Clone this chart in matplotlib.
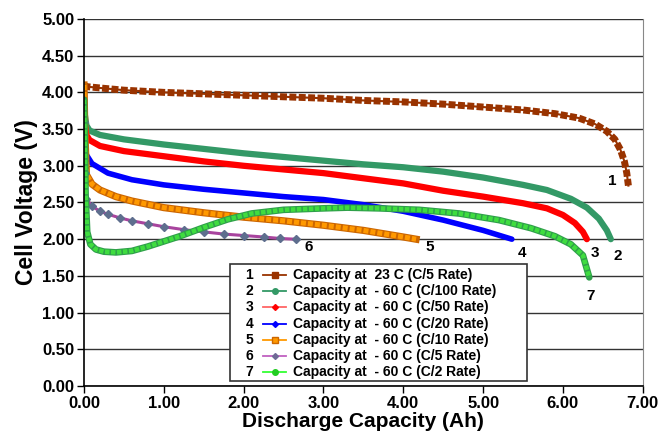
import matplotlib
matplotlib.use("Agg")
import matplotlib.pyplot as plt
from matplotlib.lines import Line2D
from matplotlib.patches import Rectangle

plt.rcParams['font.family'] = ['Liberation Sans', 'DejaVu Sans']

# curve 1: 23 C, C/5
x1 = [0.00, 0.02, 0.2, 0.5, 1.0, 1.5, 2.0, 2.5, 3.0, 3.5, 4.0, 4.5, 5.0, 5.5, 5.9, 6.2, 6.4, 6.55, 6.65, 6.72, 6.77, 6.8, 6.82]
v1 = [4.10, 4.08, 4.06, 4.03, 4.00, 3.98, 3.96, 3.94, 3.92, 3.89, 3.87, 3.84, 3.80, 3.76, 3.71, 3.65, 3.57, 3.47, 3.36, 3.22, 3.06, 2.90, 2.73]
# curve 2: -60 C, C/100
x2 = [0.0, 0.01, 0.03, 0.07, 0.2, 0.5, 1.0, 1.5, 2.0, 2.5, 3.0, 3.5, 4.0, 4.5, 5.0, 5.5, 5.8, 6.1, 6.3, 6.45, 6.55, 6.6]
v2 = [4.0, 3.7, 3.55, 3.48, 3.42, 3.36, 3.29, 3.23, 3.17, 3.12, 3.07, 3.02, 2.98, 2.92, 2.84, 2.74, 2.67, 2.55, 2.43, 2.28, 2.12, 2.0]
# curve 3: -60 C, C/50
x3 = [0.0, 0.01, 0.03, 0.07, 0.2, 0.5, 1.0, 1.5, 2.0, 2.5, 3.0, 3.5, 4.0, 4.5, 5.0, 5.5, 5.8, 6.0, 6.15, 6.25, 6.3]
v3 = [3.9, 3.55, 3.42, 3.35, 3.27, 3.20, 3.13, 3.06, 3.00, 2.95, 2.90, 2.83, 2.76, 2.66, 2.58, 2.49, 2.42, 2.33, 2.22, 2.10, 2.00]
# curve 4: -60 C, C/20
x4 = [0.0, 0.01, 0.03, 0.1, 0.3, 0.6, 1.0, 1.5, 2.0, 2.5, 3.0, 3.5, 4.0, 4.5, 5.0, 5.36]
v4 = [3.8, 3.35, 3.15, 3.03, 2.90, 2.81, 2.74, 2.68, 2.63, 2.58, 2.54, 2.47, 2.38, 2.26, 2.12, 2.00]
# curve 5: -60 C, C/10
x5 = [0.0, 0.01, 0.03, 0.1, 0.2, 0.4, 0.6, 1.0, 1.5, 2.0, 2.5, 3.0, 3.5, 4.0, 4.16]
v5 = [4.10, 3.5, 2.88, 2.75, 2.67, 2.58, 2.52, 2.43, 2.36, 2.30, 2.25, 2.19, 2.12, 2.03, 2.00]
# curve 6: -60 C, C/5
x6 = [0.0, 0.01, 0.03, 0.1, 0.2, 0.3, 0.45, 0.6, 0.8, 1.0, 1.25, 1.5, 1.75, 2.0, 2.25, 2.45, 2.65]
v6 = [3.6, 2.9, 2.55, 2.45, 2.38, 2.34, 2.29, 2.25, 2.21, 2.17, 2.13, 2.10, 2.07, 2.05, 2.03, 2.01, 2.00]
# curve 7: -60 C, C/2
x7 = [0.0, 0.01, 0.02, 0.04, 0.08, 0.15, 0.25, 0.4, 0.6, 0.8, 1.0, 1.2, 1.5, 1.8, 2.1, 2.5, 3.0, 3.3, 3.7, 4.2, 4.7, 5.2, 5.6, 5.9, 6.1, 6.25, 6.33]
v7 = [3.9, 3.3, 2.6, 2.1, 1.93, 1.86, 1.83, 1.82, 1.84, 1.90, 1.97, 2.04, 2.16, 2.27, 2.35, 2.40, 2.42, 2.43, 2.42, 2.40, 2.35, 2.26, 2.15, 2.04, 1.93, 1.78, 1.48]

labels = ["Capacity at  23 C (C/5 Rate)",
          "Capacity at  - 60 C (C/100 Rate)",
          "Capacity at  - 60 C (C/50 Rate)",
          "Capacity at  - 60 C (C/20 Rate)",
          "Capacity at  - 60 C (C/10 Rate)",
          "Capacity at  - 60 C (C/5 Rate)",
          "Capacity at  - 60 C (C/2 Rate)"]
# where the curve numbers sit
num_x = [6.62, 6.69, 6.40, 5.49, 4.33, 2.81, 6.34]
num_y = [2.79, 1.77, 1.81, 1.81, 1.89, 1.89, 1.22]

fig = plt.figure(figsize=(6.64, 4.41), dpi=100)
ax = fig.add_axes([0.1265, 0.1247, 0.8415, 0.8323])

brown = '#993300'
green = '#339966'
red = '#FF0000'
blue = '#0000FF'
orange = '#FF9900'
purple = '#A8449E'

# 1 - brown squares along a line
ax.plot(x1, v1, color=brown, lw=1.5)
ax.plot(x1, v1, color=brown, lw=5, linestyle=(0, (1, 0.35)))
# 2, 3, 4 - dense points look like thick lines
ax.plot(x2, v2, color=green, lw=4.5, solid_capstyle='round')
ax.plot(x3, v3, color=red, lw=4.5, solid_capstyle='round')
ax.plot(x4, v4, color=blue, lw=4.0, solid_capstyle='round')
# 5 - orange squares with brown edges
ax.plot(x5, v5, color='#CC6600', lw=5.2)
ax.plot(x5, v5, color=orange, lw=3.6, linestyle=(0, (1, 0.4)))
# 6 - purple line, diamonds
ax.plot(x6, v6, color=purple, lw=2.2, marker='D', ms=4.5, mfc='#5E6E8E', mec='#5E6E8E')
# 7 - bright green dots with darker rims
ax.plot(x7, v7, color='#2FA04A', lw=4.8, solid_capstyle='round')
ax.plot(x7, v7, color='#3FDD3F', lw=3.2, linestyle=(0, (1, 0.35)))

for i in range(7):
    ax.text(num_x[i], num_y[i], str(i + 1), fontsize=11, fontweight='bold',
            ha='center', va='center')

ax.set_xlim(0, 7)
ax.set_ylim(0, 5)
ax.set_xticks([0, 1, 2, 3, 4, 5, 6, 7])
ax.set_yticks([0, 0.5, 1, 1.5, 2, 2.5, 3, 3.5, 4, 4.5, 5])
ax.xaxis.set_major_formatter(plt.FuncFormatter(lambda v, p: f"{v:.2f}"))
ax.yaxis.set_major_formatter(plt.FuncFormatter(lambda v, p: f"{v:.2f}"))
ax.tick_params(labelsize=12, width=1, length=5, direction='out', pad=2)
for t in ax.get_xticklabels() + ax.get_yticklabels():
    t.set_fontweight('bold')
ax.grid(axis='y', color='#333333', lw=1)
ax.set_axisbelow(True)
ax.spines['top'].set_visible(False)
ax.spines['right'].set_color('#888888')
ax.spines['left'].set_linewidth(1.2)
ax.spines['bottom'].set_linewidth(1.2)
ax.set_xlabel("Discharge Capacity (Ah)", fontsize=15, fontweight='bold', labelpad=1)
ax.set_ylabel("Cell Voltage (V)", fontsize=16.5, fontweight='bold', labelpad=3)

# hand-built legend with numbers in front of the handles
ax.add_patch(Rectangle((0.261, 0.014), 0.532, 0.318, transform=ax.transAxes,
                       facecolor='white', edgecolor='#333333', lw=1.2, zorder=5))
leg_styles = [
    dict(color=brown, marker='s', ms=4, mfc=brown, mec=brown),
    dict(color=green, marker='o', ms=4, mfc=green, mec=green),
    dict(color='#FF6666', marker='D', ms=3, mfc=red, mec=red),
    dict(color=blue, marker='D', ms=3, mfc=blue, mec=blue),
    dict(color=orange, marker='s', ms=5, mfc=orange, mec='#CC6600'),
    dict(color='#C060C0', marker='D', ms=3, mfc='#6F6A96', mec='#6F6A96'),
    dict(color='#33FF33', marker='o', ms=4, mfc='#22CC22', mec='#22CC22'),
]
for i in range(7):
    yy = 0.302 - i * 0.044
    ax.text(0.296, yy, str(i + 1), transform=ax.transAxes, fontsize=10,
            fontweight='bold', ha='center', va='center', zorder=6)
    ax.add_line(Line2D([0.321, 0.341, 0.361], [yy, yy, yy], transform=ax.transAxes,
                       lw=1.3, markevery=[1], zorder=6, **leg_styles[i]))
    ax.text(0.374, yy, labels[i], transform=ax.transAxes, fontsize=10,
            fontweight='bold', ha='left', va='center', zorder=6)

plt.savefig("out.png", dpi=100)
